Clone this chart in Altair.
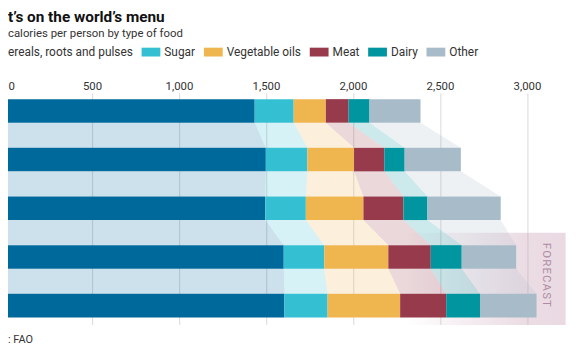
import altair as alt
import pandas as pd

# ---------------- data ----------------
years = ["1964-66", "1997-99", "2015", "2030", "2050"]
categories = ["Cereals, roots and pulses", "Sugar", "Vegetable oils", "Meat", "Dairy", "Other"]
colors = ["#00699b", "#34c0d2", "#efb54f", "#963a4c", "#00959f", "#a8bbc8"]
cereals = [1435, 1499, 1496, 1602, 1606]
sugar = [224, 239, 233, 233, 248]
veg_oils = [185, 268, 331, 368, 417]
meat = [131, 174, 230, 244, 265]
dairy = [120, 117, 138, 178, 194]
other = [293, 323, 421, 313, 325]
x_ticks = [0, 500, 1000, 1500, 2000, 2500, 3000]
forecast_from = 3  # first forecast row

# ---------------- tables ----------------
series = [cereals, sugar, veg_oils, meat, dairy, other]
BAR = 0.484  # bar thickness in row units
rows = []
for i, yr in enumerate(years):
    acc = 0
    for c, s in zip(categories, series):
        rows.append(dict(year=yr, row=i, cat=c, start=acc, end=acc + s[i], top=i, bottom=i + BAR))
        acc += s[i]
bars = pd.DataFrame(rows)

band_rows = []
for i in range(len(years) - 1):
    for c in categories:
        a = bars[(bars.row == i) & (bars.cat == c)].iloc[0]
        b = bars[(bars.row == i + 1) & (bars.cat == c)].iloc[0]
        band_rows.append(dict(pair=i, cat=c, y=i + BAR, start=float(a.start), end=float(a.end)))
        band_rows.append(dict(pair=i, cat=c, y=i + 1, start=float(b.start), end=float(b.end)))
bands = pd.DataFrame(band_rows)

FONT = "Roboto"
xscale = alt.Scale(domain=[0, 3200], range=[-3, 559.7], nice=False, zero=False)
yscale = alt.Scale(domain=[-0.128, 4.628], reverse=True, nice=False, zero=False)
cscale = alt.Scale(domain=categories, range=colors)
legend = alt.Legend(
    orient="none", legendX=-23, legendY=-51, direction="horizontal", title=None,
    symbolType="M-1,-0.47H1V0.47H-1Z", symbolSize=361, symbolStrokeWidth=0,
    symbolOpacity=1, labelFont=FONT, labelFontSize=12, labelColor="#333333",
    labelOffset=4, columnPadding=8,
    # the picture is cropped on the left: only the tail of the first label shows
    labelExpr="datum.label == 'Cereals, roots and pulses' ? 'ereals, roots and pulses' : datum.label",
)
xaxis = alt.Axis(
    orient="top", values=x_ticks, format=",d", grid=True, gridColor="#d9d9d9",
    domain=False, ticks=False, labelFont=FONT, labelFontSize=11.5, labelColor="#333333",
    labelPadding=1, labelFlush=True, labelFlushOffset=-3, title=None,
)

# forecast box with a fade-in gradient
box_df = pd.DataFrame({"x0": [2300.0], "x1": [3222.0], "y0": [forecast_from - 0.256], "y1": [4.642]})
box = alt.Chart(box_df).mark_rect(
    color=alt.Gradient(
        gradient="linear", x1=0, x2=1, y1=0, y2=0,
        stops=[
            alt.GradientStop(offset=0, color="rgba(196,150,174,0)"),
            alt.GradientStop(offset=0.74, color="rgba(196,150,174,0.33)"),
            alt.GradientStop(offset=1, color="rgba(196,150,174,0.36)"),
        ],
    )
).encode(
    x=alt.X("x0:Q", scale=xscale, axis=xaxis),
    x2="x1:Q",
    y=alt.Y("y0:Q", scale=yscale, axis=None),
    y2="y1:Q",
)

band_layer = alt.Chart(bands).mark_area(orient="horizontal", opacity=0.2).encode(
    y=alt.Y("y:Q", scale=yscale, axis=None),
    x=alt.X("start:Q", scale=xscale, stack=None, axis=xaxis),
    x2="end:Q",
    color=alt.Color("cat:N", scale=cscale, legend=legend),
    detail="pair:N",
)

bar_layer = alt.Chart(bars).mark_rect().encode(
    x=alt.X("start:Q", scale=xscale, axis=xaxis),
    x2="end:Q",
    y=alt.Y("top:Q", scale=yscale, axis=None),
    y2="bottom:Q",
    color=alt.Color("cat:N", scale=cscale, legend=legend),
)

fc_df = pd.DataFrame({"t": ["F\u200aO\u200aR\u200aE\u200aC\u200aA\u200aS\u200aT"], "x": [3110.0], "y": [3.61]})
forecast_text = alt.Chart(fc_df).mark_text(
    angle=90, font=FONT, fontSize=11.5, color="#b08ba3", align="center", baseline="middle"
).encode(
    x=alt.X("x:Q", scale=xscale, axis=xaxis),
    y=alt.Y("y:Q", scale=yscale, axis=None),
    text="t:N",
)


def txt(s, x, y, size, weight="normal", align="left", color="#333333"):
    return alt.Chart(pd.DataFrame({"t": [s]})).mark_text(
        font=FONT, fontSize=size, fontWeight=weight, align=align, baseline="alphabetic", color=color
    ).encode(x=alt.value(x), y=alt.value(y), text="t:N")


# visible (cropped) parts of the header and source lines
texts = [
    txt("t\u2019s on the world\u2019s menu", 0, -71.5, 15.5, "bold", "left", "#111111"),
    txt("calories per person by type of food", 0, -56, 11.5),
    txt(": FAO", 0, 253, 11),
]

chart = alt.layer(box, band_layer, bar_layer, forecast_text, *texts).properties(
    width=560, height=234,
    autosize=alt.AutoSizeParams(type="none"),
    padding={"left": 0, "top": 84, "right": 6, "bottom": 20},
    background="white",
).configure_view(stroke=None)

chart.save("out.html", embed_options={"renderer": "svg", "actions": False})
